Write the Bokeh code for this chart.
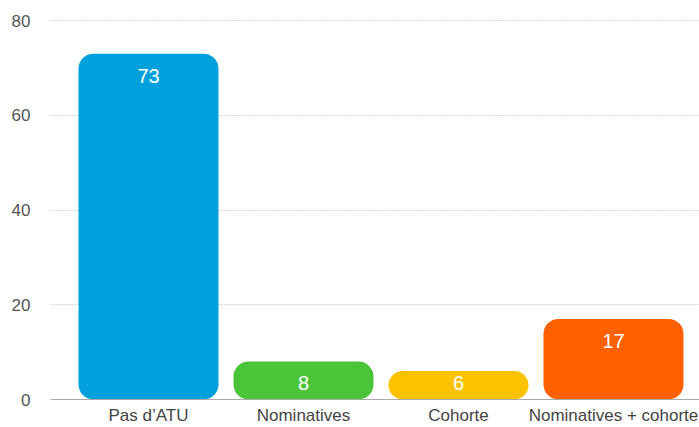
from bokeh.plotting import figure
from bokeh.models import Range1d, FixedTicker, ColumnDataSource
from bokeh.core.properties import value
from bokeh.embed import file_html
from bokeh.resources import INLINE

categories = ["Pas d\u2019ATU", "Nominatives", "Cohorte", "Nominatives + cohorte"]
values = [73, 8, 6, 17]
colors = ["#00A0DC", "#4CC43A", "#FCC200", "#FF6000"]
y_ticks = [0, 20, 40, 60, 80]

W, H = 699, 427
top_b, bot_b, left_b = 19, 28, 50
frame_h = H - top_b - bot_b          # 380 px, 80 at 1 px below frame top
px_per_unit = (frame_h - 1) / 80.0
y_end = frame_h / px_per_unit
px_per_cat = 155.0

x = list(range(len(categories)))
lab_y = [max(v - 22 / px_per_unit, 17 / px_per_unit) for v in values]
src = ColumnDataSource(dict(x=x, v=values, c=colors, ly=lab_y, t=[str(v) for v in values]))

x0 = -98 / px_per_cat
x1 = x0 + (W - left_b) / px_per_cat
p = figure(width=W, height=H, output_backend="svg", toolbar_location=None,
           x_range=Range1d(x0, x1), y_range=Range1d(0, y_end),
           min_border_left=left_b, min_border_right=0, min_border_top=top_b,
           min_border_bottom=bot_b)
p.outline_line_color = None
p.background_fill_color = "white"
p.border_fill_color = "white"

p.vbar(x="x", top="v", bottom=0, width=140 / px_per_cat, color="c", line_color=None,
       border_radius=15, source=src)
p.text(x="x", y="ly", text="t", source=src, text_color="white", text_align="center",
       text_baseline="middle", text_font_size="20px", text_font=value("Liberation Sans"))

p.xgrid.grid_line_color = None
p.ygrid.grid_line_color = "#b0b0b0"
p.ygrid.grid_line_dash = "1 2"
p.ygrid.ticker = FixedTicker(ticks=y_ticks[1:])

p.yaxis.ticker = FixedTicker(ticks=y_ticks)
p.yaxis.axis_line_color = None
p.yaxis.major_tick_line_color = None
p.yaxis.minor_tick_line_color = None
p.yaxis.major_tick_out = 0
p.yaxis.major_tick_in = 0
p.yaxis.minor_tick_out = 0
p.yaxis.major_label_standoff = 20
p.yaxis.major_label_text_font = "Liberation Sans"
p.yaxis.major_label_text_font_size = "17px"
p.yaxis.major_label_text_color = "#555555"

p.xaxis.ticker = FixedTicker(ticks=x)
p.xaxis.major_label_overrides = {i: c for i, c in zip(x, categories)}
p.xaxis.axis_line_color = "#aaaaaa"
p.xaxis.major_tick_line_color = None
p.xaxis.minor_tick_line_color = None
p.xaxis.major_tick_out = 0
p.xaxis.major_tick_in = 0
p.xaxis.minor_tick_out = 0
p.xaxis.major_label_standoff = 6
p.xaxis.major_label_text_font = "Liberation Sans"
p.xaxis.major_label_text_font_size = "17px"
p.xaxis.major_label_text_color = "#444444"

open("out.html", "w").write(file_html(p, INLINE))
